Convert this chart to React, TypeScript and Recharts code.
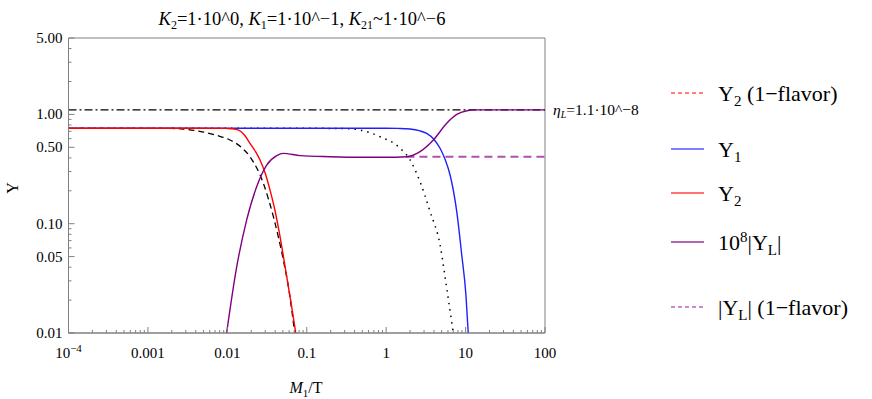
import { LineChart, Line, XAxis, YAxis, ReferenceLine, ReferenceArea } from "recharts";

// Y2 (red, solid)
const y2X = [1e-4, 0.001, 0.005, 0.0095, 0.0112, 0.0128, 0.0145, 0.0165, 0.0193, 0.0225, 0.0258, 0.03, 0.0345, 0.04, 0.0461, 0.056, 0.0645, 0.0727];
const y2Y = [0.746, 0.746, 0.746, 0.745, 0.74, 0.73, 0.705, 0.645, 0.544, 0.46, 0.383, 0.29, 0.203, 0.13, 0.076, 0.0327, 0.0175, 0.01];

// Y2 one-flavor (black dashed)
const y2fX = [1e-4, 0.001, 0.002, 0.0028, 0.0045, 0.0075, 0.0108, 0.015, 0.0193, 0.0284, 0.038, 0.0507, 0.06, 0.0705];
const y2fY = [0.746, 0.746, 0.744, 0.735, 0.7, 0.64, 0.583, 0.5, 0.41, 0.234, 0.116, 0.0466, 0.024, 0.01];

// Y1 (blue)
const y1X = [1e-4, 0.01, 0.1, 1, 1.5, 2.0, 2.6, 3.24, 4.0, 4.77, 5.5, 6.38, 7.74, 8.95, 10.1, 10.8];
const y1Y = [0.746, 0.746, 0.746, 0.746, 0.744, 0.735, 0.71, 0.67, 0.59, 0.49, 0.39, 0.279, 0.129, 0.0517, 0.0223, 0.01];

// Y1 one-flavor (black dotted)
const y1fX = [1e-4, 0.1, 0.3, 0.47, 0.84, 1.5, 2.0, 2.67, 3.57, 4.77, 5.79, 7.0];
const y1fY = [0.746, 0.746, 0.742, 0.72, 0.625, 0.49, 0.383, 0.242, 0.129, 0.064, 0.0256, 0.01];

// 10^8 |YL| (purple)
const ylX = [0.0098, 0.0131, 0.0175, 0.0234, 0.0313, 0.0419, 0.0507, 0.0824, 0.196, 0.5, 1.0, 1.82, 2.67, 3.93, 5.79, 7.74, 10.4, 13, 20, 100];
const ylY = [0.01, 0.04, 0.108, 0.218, 0.344, 0.419, 0.44, 0.42, 0.41, 0.405, 0.405, 0.41, 0.456, 0.583, 0.83, 1.0, 1.08, 1.1, 1.1, 1.1];

// |YL| one-flavor (purple dashed)
const ylfX = [1.8, 100];
const ylfY = [0.41, 0.41];

const etaL = 1.1;

const xMajor = [1e-4, 0.001, 0.01, 0.1, 1, 10, 100];
const xLabels = ["", "0.001", "0.01", "0.1", "1", "10", "100"];
const yMajor = [0.01, 0.05, 0.1, 0.5, 1, 5];
const yLabels = ["0.01", "0.05", "0.10", "0.50", "1.00", "5.00"];

const minorOf = (decades: number[], max: number) => {
  const out: number[] = [];
  decades.forEach((d) => {
    for (let k = 2; k <= 9; k++) {
      const v = d * k;
      if (v < max) out.push(v);
    }
  });
  return out;
};

const xTicks = [...xMajor, ...minorOf([1e-4, 0.001, 0.01, 0.1, 1, 10], 100)].sort((a, b) => a - b);
const yTicks = [...yMajor, ...minorOf([0.01, 0.1, 1], 5)]
  .filter((v, i, arr) => arr.findIndex((w) => Math.abs(w - v) / v < 1e-6) === i)
  .sort((a, b) => a - b);

const toRows = (xs: number[], ys: number[]) => xs.map((x, i) => ({ x, y: ys[i] }));

const FONT = "'Liberation Serif', 'DejaVu Serif', serif";

const majorIndex = (list: number[], v: number) => list.findIndex((m) => Math.abs(m - v) / m < 1e-6);

const XTick = (props: any) => {
  const { x, y, payload } = props;
  const idx = majorIndex(xMajor, payload.value);
  const major = idx >= 0;
  return (
    <g>
      <line x1={x} x2={x} y1={y} y2={y - (major ? 6 : 3)} stroke="#808080" />
      {major && idx === 0 && (
        <text x={x} y={y + 25} textAnchor="middle" fontFamily={FONT} fontSize={15} fill="#000">
          10<tspan dy={-6} fontSize={11}>−4</tspan>
        </text>
      )}
      {major && idx > 0 && (
        <text x={x} y={y + 25} textAnchor="middle" fontFamily={FONT} fontSize={15} fill="#000">
          {xLabels[idx]}
        </text>
      )}
    </g>
  );
};

const YTick = (props: any) => {
  const { x, y, payload } = props;
  const idx = majorIndex(yMajor, payload.value);
  const major = idx >= 0;
  return (
    <g>
      <line x1={x} x2={x + (major ? 6 : 3)} y1={y} y2={y} stroke="#808080" />
      {major && (
        <text x={x - 6} y={y + 5} textAnchor="end" fontFamily={FONT} fontSize={15} fill="#000">
          {yLabels[idx]}
        </text>
      )}
    </g>
  );
};

const EtaLabel = (props: any) => {
  const { viewBox } = props;
  return (
    <text x={viewBox.x + viewBox.width + 8} y={viewBox.y + 5} fontFamily={FONT} fontSize={15.5} fill="#000">
      <tspan fontStyle="italic">η</tspan>
      <tspan fontStyle="italic" fontSize={10} dy={3}>L</tspan>
      <tspan dy={-3}>=1.1·10^−8</tspan>
    </text>
  );
};

const legendItems = [
  { key: "y2f", y: 93, color: "#ff5555", dash: "4 3" },
  { key: "y1", y: 149, color: "#5555ff", dash: undefined },
  { key: "y2", y: 193, color: "#ff4444", dash: undefined },
  { key: "yl", y: 242, color: "#993399", dash: undefined },
  { key: "ylf", y: 307, color: "#c060c0", dash: "4 3" },
];

const legendText = (key: string) => {
  switch (key) {
    case "y2f":
      return (
        <>
          Y<tspan dy={5} fontSize={15}>2</tspan>
          <tspan dy={-5}> (1−flavor)</tspan>
        </>
      );
    case "y1":
      return (
        <>
          Y<tspan dy={5} fontSize={15}>1</tspan>
        </>
      );
    case "y2":
      return (
        <>
          Y<tspan dy={5} fontSize={15}>2</tspan>
        </>
      );
    case "yl":
      return (
        <>
          10<tspan dy={-8} fontSize={15}>8</tspan>
          <tspan dy={8}>|Y</tspan>
          <tspan dy={5} fontSize={15}>L</tspan>
          <tspan dy={-5}>|</tspan>
        </>
      );
    default:
      return (
        <>
          |Y<tspan dy={5} fontSize={15}>L</tspan>
          <tspan dy={-5}>| (1−flavor)</tspan>
        </>
      );
  }
};

export default function App() {
  return (
    <div style={{ position: "absolute", left: 0, top: 0, width: 872, height: 399, background: "#fff" }}>
      <LineChart width={872} height={399} margin={{ top: 38, right: 327, bottom: 36, left: 8.5 }}>
        <XAxis
          dataKey="x"
          type="number"
          scale="log"
          domain={[1e-4, 100]}
          allowDataOverflow
          ticks={xTicks}
          interval={0}
          tick={<XTick />}
          tickLine={false}
          tickSize={0}
          tickMargin={0}
          height={30}
          axisLine={{ stroke: "#808080" }}
        />
        <YAxis
          dataKey="y"
          type="number"
          scale="log"
          domain={[0.01, 5]}
          allowDataOverflow
          ticks={yTicks}
          interval={0}
          tick={<YTick />}
          tickLine={false}
          tickSize={0}
          tickMargin={0}
          width={60}
          axisLine={{ stroke: "#808080" }}
        />
        <ReferenceArea x1={1e-4} x2={100} y1={0.01} y2={5} fill="none" stroke="#808080" strokeOpacity={1} />
        <ReferenceLine y={etaL} stroke="#000" strokeWidth={1.3} strokeDasharray="8 3 2 3" label={<EtaLabel />} />
        <Line data={toRows(y1fX, y1fY)} dataKey="y" type="monotone" stroke="#000" strokeWidth={1.5} strokeDasharray="1.5 5" dot={false} isAnimationActive={false} />
        <Line data={toRows(y2fX, y2fY)} dataKey="y" type="monotone" stroke="#000" strokeWidth={1.3} strokeDasharray="6 4" dot={false} isAnimationActive={false} />
        <Line data={toRows(ylfX, ylfY)} dataKey="y" type="linear" stroke="#b050b0" strokeWidth={2} strokeDasharray="8 5" dot={false} isAnimationActive={false} />
        <Line data={toRows(y1X, y1Y)} dataKey="y" type="monotone" stroke="#2020ff" strokeWidth={1.4} dot={false} isAnimationActive={false} />
        <Line data={toRows(y2X, y2Y)} dataKey="y" type="monotone" stroke="#ff0000" strokeWidth={1.4} dot={false} isAnimationActive={false} />
        <Line data={toRows(ylX, ylY)} dataKey="y" type="monotone" stroke="#800080" strokeWidth={1.4} dot={false} isAnimationActive={false} />
      </LineChart>
      <svg width={872} height={399} style={{ position: "absolute", left: 0, top: 0, pointerEvents: "none" }}>
        <text x={302} y={25} textAnchor="middle" fontFamily={FONT} fontSize={18.5} fill="#000">
          <tspan fontStyle="italic">K</tspan>
          <tspan dy={4} fontSize={12}>2</tspan>
          <tspan dy={-4}>=1·10^0, </tspan>
          <tspan fontStyle="italic">K</tspan>
          <tspan dy={4} fontSize={12}>1</tspan>
          <tspan dy={-4}>=1·10^−1, </tspan>
          <tspan fontStyle="italic">K</tspan>
          <tspan dy={4} fontSize={12}>21</tspan>
          <tspan dy={-4}>~1·10^−6</tspan>
        </text>
        <text x={306} y={393} textAnchor="middle" fontFamily={FONT} fontSize={16} fill="#000">
          <tspan fontStyle="italic">M</tspan>
          <tspan dy={4} fontSize={11}>1</tspan>
          <tspan dy={-4}>/T</tspan>
        </text>
        <text x={18} y={188} textAnchor="middle" fontFamily={FONT} fontSize={16} fill="#000" transform="rotate(-90 18 188)">
          Y
        </text>
        {legendItems.map((it) => (
          <g key={it.key}>
            <line x1={671} x2={704} y1={it.y} y2={it.y} stroke={it.color} strokeWidth={1.5} strokeDasharray={it.dash} />
            <text x={718} y={it.y + 8} fontFamily={FONT} fontSize={22} fill="#000">
              {legendText(it.key)}
            </text>
          </g>
        ))}
      </svg>
    </div>
  );
}
